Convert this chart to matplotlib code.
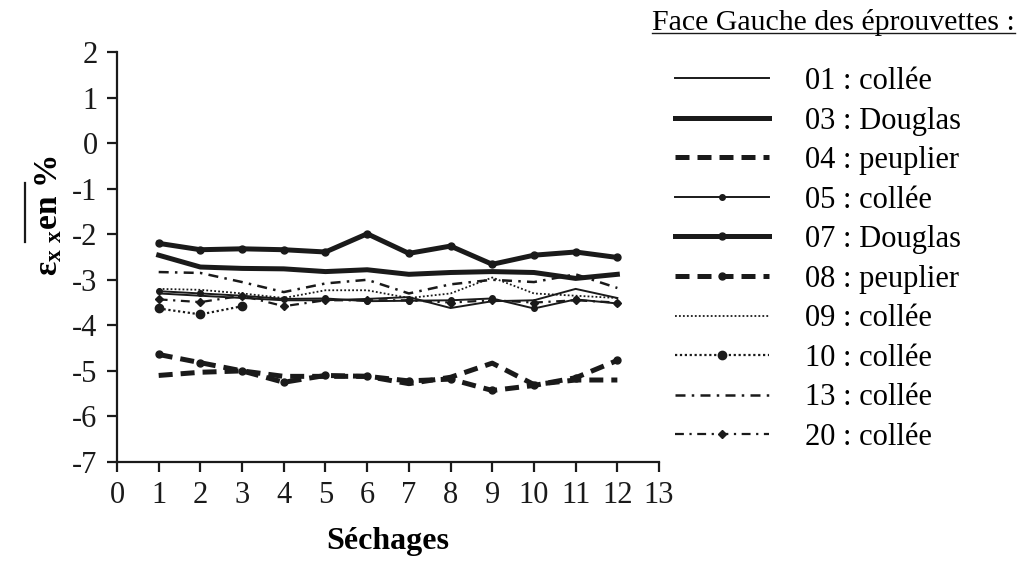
import numpy as np
import matplotlib
matplotlib.use("Agg")
import matplotlib.pyplot as plt
from matplotlib.lines import Line2D

plt.rcParams['font.family'] = ['Liberation Serif', 'DejaVu Serif']
plt.rcParams['mathtext.fontset'] = 'custom'
plt.rcParams['mathtext.rm'] = 'Liberation Serif'
plt.rcParams['mathtext.bf'] = 'Liberation Serif:bold'
plt.rcParams['axes.unicode_minus'] = False

# Séchages 1..12
sechages = [1, 2, 3, 4, 5, 6, 7, 8, 9, 10, 11, 12]

s01 = [-3.30, -3.35, -3.40, -3.45, -3.45, -3.42, -3.38, -3.62, -3.47, -3.45, -3.20, -3.40]
s03 = [-2.46, -2.72, -2.75, -2.76, -2.82, -2.78, -2.88, -2.84, -2.82, -2.84, -2.97, -2.88]
s04 = [-5.10, -5.03, -5.00, -5.12, -5.12, -5.12, -5.28, -5.14, -4.83, -5.30, -5.20, -5.20]
s05 = [-3.25, -3.30, -3.35, -3.42, -3.41, -3.47, -3.46, -3.45, -3.41, -3.63, -3.43, -3.52]
s07 = [-2.20, -2.34, -2.32, -2.34, -2.39, -1.99, -2.42, -2.26, -2.66, -2.46, -2.39, -2.51]
s08 = [-4.64, -4.82, -5.00, -5.25, -5.10, -5.12, -5.22, -5.18, -5.43, -5.32, -5.15, -4.77]
s09 = [-3.20, -3.22, -3.30, -3.40, -3.23, -3.23, -3.40, -3.30, -2.95, -3.30, -3.35, -3.40]
s10 = [-3.63, -3.76, -3.58]
s13 = [-2.83, -2.85, -3.05, -3.27, -3.08, -3.00, -3.30, -3.10, -3.00, -3.05, -2.88, -3.18]
s20 = [-3.43, -3.49, -3.35, -3.58, -3.45, -3.45, -3.45, -3.50, -3.45, -3.50, -3.45, -3.50]

labels = ['01 : collée', '03 : Douglas', '04 : peuplier', '05 : collée', '07 : Douglas',
          '08 : peuplier', '09 : collée', '10 : collée', '13 : collée', '20 : collée']

ink = '#1a1a1a'

fig = plt.figure(figsize=(10.28, 5.63), dpi=100)
ax = fig.add_axes([0.1138, 0.1794, 0.5273, 0.7282])

x = np.array(sechages)
h = []
h += ax.plot(x, s01, color=ink, lw=1.4)
h += ax.plot(x, s03, color=ink, lw=3.6)
h += ax.plot(x, s04, color=ink, lw=3.6, dashes=(2.8, 1.6))
h += ax.plot(x, s05, color=ink, lw=1.4, marker='o', ms=4)
h += ax.plot(x, s07, color=ink, lw=3.6, marker='o', ms=5)
h += ax.plot(x, s08, color=ink, lw=3.6, dashes=(2.8, 1.6), marker='o', ms=5)
h += ax.plot(x, s09, color=ink, lw=1.3, dashes=(1, 1.2))
h += ax.plot(x[:len(s10)], s10, color=ink, lw=1.6, dashes=(1, 1.2), marker='o', ms=6)
h += ax.plot(x, s13, color=ink, lw=1.8, dashes=(4, 2.5, 1, 2.5))
h += ax.plot(x, s20, color=ink, lw=1.6, dashes=(4, 2.5, 1, 2.5), marker='D', ms=4.5)

ax.set_xlim(0, 13)
ax.set_ylim(-7, 2)
ax.set_xticks(range(0, 14))
ax.set_yticks(range(-7, 3))
for s in ['top', 'right']:
    ax.spines[s].set_visible(False)
for s in ['left', 'bottom']:
    ax.spines[s].set_linewidth(1.6)
    ax.spines[s].set_color(ink)
ax.tick_params(direction='out', length=7, width=1.6, labelsize=22, colors=ink, pad=7)

ax.set_xlabel('Séchages', fontsize=23, fontweight='bold', labelpad=12)
ax.set_ylabel(r'$\mathbf{ε_{x\ x}}$en %', fontsize=24, fontweight='bold')
ax.yaxis.set_label_coords(-0.097, 0.6)
# bar over the strain symbol
fig.add_artist(Line2D([0.024, 0.024], [1 - 242 / 563, 1 - 183 / 563],
                      transform=fig.transFigure, color=ink, lw=1.6))

fig.legend(h, labels, loc='upper left', bbox_to_anchor=(0.657, 0.881), frameon=False,
           fontsize=22, handlelength=3.05, handletextpad=1.2, labelspacing=0.345,
           borderaxespad=0, borderpad=0)

t = fig.text(0.634, 0.960, 'Face Gauche des éprouvettes :', fontsize=21.5, ha='left', va='center')
fig.canvas.draw()
bb = t.get_window_extent()
fig.add_artist(Line2D([bb.x0 / fig.bbox.width, bb.x1 / fig.bbox.width],
                      [(bb.y0 + 3) / fig.bbox.height] * 2,
                      transform=fig.transFigure, color=ink, lw=1.0))

fig.savefig('out.png', dpi=100)
